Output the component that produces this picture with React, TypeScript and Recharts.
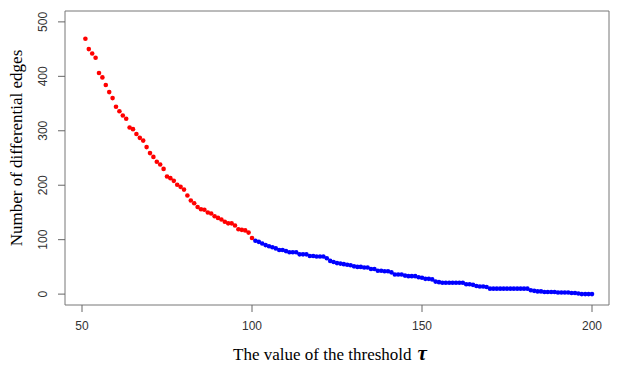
import React from "react";
import { ScatterChart, Scatter, XAxis, YAxis, ReferenceArea, Customized } from "recharts";

const thresholdsRed = [
  51, 52, 53, 54, 55, 56, 57, 58, 59, 60,
  61, 62, 63, 64, 65, 66, 67, 68, 69, 70,
  71, 72, 73, 74, 75, 76, 77, 78, 79, 80,
  81, 82, 83, 84, 85, 86, 87, 88, 89, 90,
  91, 92, 93, 94, 95, 96, 97, 98, 99, 100,
];
const countsRed = [
  469, 450, 442, 434, 406, 398, 384, 371, 360, 344,
  336, 328, 322, 306, 303, 294, 287, 282, 270, 259,
  252, 243, 238, 230, 216, 213, 208, 201, 197, 192,
  181, 172, 167, 160, 156, 155, 150, 148, 143, 140,
  137, 133, 130, 130, 126, 119, 118, 117, 113, 103,
];
const thresholdsBlue = [
  101, 102, 103, 104, 105, 106, 107, 108, 109, 110,
  111, 112, 113, 114, 115, 116, 117, 118, 119, 120,
  121, 122, 123, 124, 125, 126, 127, 128, 129, 130,
  131, 132, 133, 134, 135, 136, 137, 138, 139, 140,
  141, 142, 143, 144, 145, 146, 147, 148, 149, 150,
  151, 152, 153, 154, 155, 156, 157, 158, 159, 160,
  161, 162, 163, 164, 165, 166, 167, 168, 169, 170,
  171, 172, 173, 174, 175, 176, 177, 178, 179, 180,
  181, 182, 183, 184, 185, 186, 187, 188, 189, 190,
  191, 192, 193, 194, 195, 196, 197, 198, 199, 200,
];
const countsBlue = [
  98, 96, 93, 90, 88, 86, 84, 81, 81, 79,
  77, 77, 77, 73, 73, 73, 70, 70, 69, 69,
  69, 66, 61, 59, 57, 56, 55, 54, 53, 51,
  50, 50, 49, 49, 46, 46, 43, 43, 42, 42,
  40, 36, 36, 36, 34, 33, 33, 33, 31, 30,
  28, 28, 27, 23, 22, 21, 21, 21, 21, 21,
  21, 21, 18, 18, 17, 15, 14, 14, 13, 10,
  10, 10, 10, 10, 10, 10, 10, 10, 10, 10,
  10, 7, 6, 5, 5, 4, 4, 4, 4, 3,
  3, 3, 3, 2, 2, 1, 0, 0, 0, 0,
];
const xTicks = [50, 100, 150, 200];
const yTicks = [0, 100, 200, 300, 400, 500];
const xTitle = "The value of the threshold";
const xSymbol = "τ";
const yTitle = "Number of differential edges";

const redData = thresholdsRed.map((t, i) => ({ t, n: countsRed[i] }));
const blueData = thresholdsBlue.map((t, i) => ({ t, n: countsBlue[i] }));

const Dot = (color: string) => (props: any) => (
  <circle cx={props.cx} cy={props.cy} r={2.3} fill={color} />
);

const YTick = (props: any) => {
  const { x, y, payload } = props;
  return (
    <text
      x={x}
      y={y}
      transform={`rotate(-90, ${x}, ${y})`}
      textAnchor="middle"
      fontFamily="Liberation Sans, Arial, sans-serif"
      fontSize={12}
      fill="#333"
    >
      {payload.value}
    </text>
  );
};

const XTick = (props: any) => {
  const { x, y, payload } = props;
  return (
    <text
      x={x}
      y={y}
      dy="0.71em"
      textAnchor="middle"
      fontFamily="Liberation Sans, Arial, sans-serif"
      fontSize={12}
      fill="#333"
    >
      {payload.value}
    </text>
  );
};

const Titles = () => (
  <g>
    <text
      x={330}
      y={360}
      textAnchor="middle"
      fontFamily="Liberation Serif, Times New Roman, serif"
      fontSize={17}
      fill="#000"
    >
      {xTitle}
      <tspan dx={6} fontStyle="italic" fontWeight="bold" fontSize={21}>
        {xSymbol}
      </tspan>
    </text>
    <text
      x={22}
      y={148}
      transform="rotate(-90, 22, 148)"
      textAnchor="middle"
      fontFamily="Liberation Serif, Times New Roman, serif"
      fontSize={17}
      fill="#000"
    >
      {yTitle}
    </text>
  </g>
);

export default function App() {
  return (
    <div style={{ position: "absolute", left: 0, top: 0, width: 621, height: 371, background: "#fff" }}>
      <ScatterChart
        width={621}
        height={371}
        margin={{ top: 11, right: 12, left: 0, bottom: 0 }}
      >
        <XAxis
          type="number"
          dataKey="t"
          domain={[45, 205]}
          ticks={xTicks}
          axisLine={false}
          tickSize={7}
          tickLine={{ stroke: "#666" }}
          tickMargin={9}
          tick={<XTick />}
          height={66}
          allowDataOverflow
        />
        <YAxis
          type="number"
          dataKey="n"
          domain={[-20, 520]}
          ticks={yTicks}
          axisLine={false}
          tickSize={7}
          tickLine={{ stroke: "#666" }}
          tickMargin={11}
          tick={<YTick />}
          width={65}
          allowDataOverflow
        />
        <ReferenceArea
          x1={45}
          x2={205}
          y1={-20}
          y2={520}
          fill="none"
          stroke="#777"
          strokeWidth={1}
          ifOverflow="visible"
        />
        <Scatter data={redData} fill="#ff0000" shape={Dot("#ff0000")} isAnimationActive={false} />
        <Scatter data={blueData} fill="#0000ff" shape={Dot("#0000ff")} isAnimationActive={false} />
        <Customized component={Titles} />
      </ScatterChart>
    </div>
  );
}
